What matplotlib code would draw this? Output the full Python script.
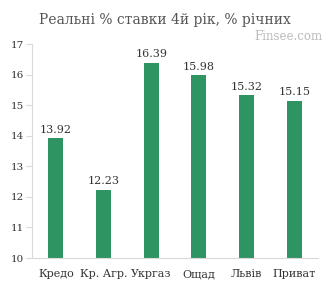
import matplotlib
matplotlib.use("Agg")
import matplotlib.pyplot as plt

categories = ["Кредо", "Кр. Агр.", "Укргаз", "Ощад", "Львів", "Приват"]
values = [13.92, 12.23, 16.39, 15.98, 15.32, 15.15]
yticks = [10, 11, 12, 13, 14, 15, 16, 17]

plt.rcParams['font.family'] = ['DejaVu Serif']
fig = plt.figure(figsize=(3.33, 2.88), dpi=100)
ax = fig.add_axes([0.096, 0.104, 0.859, 0.743])
x = range(len(categories))
ax.bar(x, values, width=0.32, color='#2e9462', bottom=0)
for xi, v in zip(x, values):
    ax.text(xi, v + 0.12, f"{v:.2f}", ha='center', va='bottom', fontsize=8, color='#333333')
ax.set_ylim(10, 17)
ax.set_xlim(-0.5, len(categories) - 0.5)
ax.set_yticks(yticks)
ax.set_yticklabels([str(t) for t in yticks], fontsize=7.5, color='#333333')
ax.set_xticks(list(x))
ax.set_xticklabels(categories, fontsize=8, color='#333333')
for s in ['top', 'right']:
    ax.spines[s].set_visible(False)
for s in ['left', 'bottom']:
    ax.spines[s].set_color('#d9d9d9')
ax.tick_params(axis='y', color='#d9d9d9', length=4, pad=2)
ax.tick_params(axis='x', length=0, pad=8)
fig.text(0.495, 0.93, "Реальні % ставки 4й рік, % річних", ha='center', va='center', fontsize=10, color='#555555')
fig.text(0.967, 0.875, "Finsee.com", ha='right', va='center', fontsize=8.5, color='#bbbbbb')
fig.savefig("out.png", dpi=100)
